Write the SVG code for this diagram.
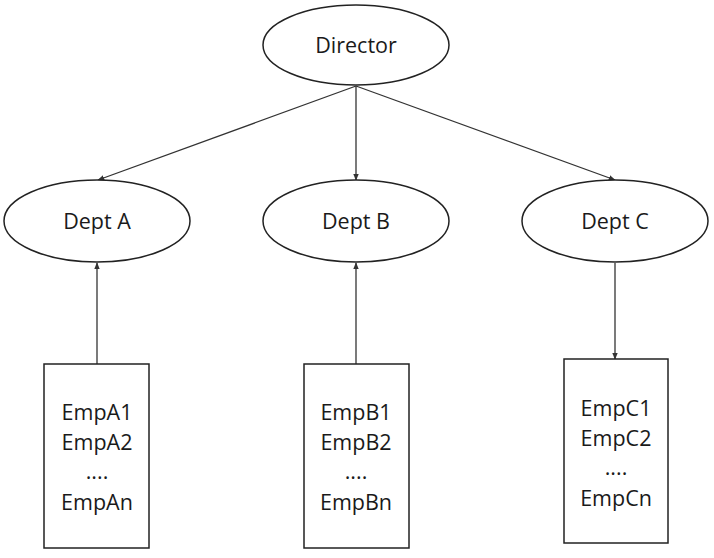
<svg xmlns="http://www.w3.org/2000/svg" width="714" height="558" viewBox="0 0 714 558">
<style>
.n{fill:#fff;stroke:#222;stroke-width:1.5}
.t{font-family:"Open Sans","Noto Sans",sans-serif;font-size:21.5px;fill:#1a1a1a;text-anchor:middle;dominant-baseline:central}
.c{stroke:#333;stroke-width:1.3;fill:none;marker-end:url(#a)}
</style>
<defs>
<marker id="a" viewBox="0 0 10 10" refX="9" refY="5" markerWidth="7" markerHeight="7" markerUnits="userSpaceOnUse" orient="auto">
<path d="M0,1 L10,5 L0,9 Z" fill="#333"/>
</marker>
</defs>
<g id="connectors">
<line class="c" x1="356" y1="86" x2="98" y2="180"/>
<line class="c" x1="356" y1="86" x2="356" y2="180"/>
<line class="c" x1="356" y1="86" x2="615" y2="180"/>
<line class="c" x1="97" y1="364" x2="97" y2="263"/>
<line class="c" x1="356" y1="364" x2="356" y2="263"/>
<line class="c" x1="615" y1="263" x2="615" y2="359"/>
</g>
<g id="director"><ellipse class="n" cx="356" cy="45" rx="93" ry="40"/><text class="t" x="356" y="44">Director</text></g>
<g id="deptA"><ellipse class="n" cx="97" cy="221" rx="93" ry="41"/><text class="t" x="97" y="220">Dept A</text></g>
<g id="deptB"><ellipse class="n" cx="356" cy="221" rx="93" ry="41"/><text class="t" x="356" y="220">Dept B</text></g>
<g id="deptC"><ellipse class="n" cx="615" cy="221" rx="93" ry="41"/><text class="t" x="615" y="220">Dept C</text></g>
<g id="empA"><rect class="n" x="44" y="364" width="105" height="184"/>
<text class="t" x="97" y="411">EmpA1</text><text class="t" x="97" y="441">EmpA2</text><text class="t" x="97" y="470">....</text><text class="t" x="97" y="501">EmpAn</text></g>
<g id="empB"><rect class="n" x="304" y="364" width="105" height="184"/>
<text class="t" x="356" y="411">EmpB1</text><text class="t" x="356" y="441">EmpB2</text><text class="t" x="356" y="470">....</text><text class="t" x="356" y="501">EmpBn</text></g>
<g id="empC"><rect class="n" x="564" y="359" width="104" height="184"/>
<text class="t" x="616" y="407">EmpC1</text><text class="t" x="616" y="437">EmpC2</text><text class="t" x="616" y="466">....</text><text class="t" x="616" y="497">EmpCn</text></g>
</svg>
